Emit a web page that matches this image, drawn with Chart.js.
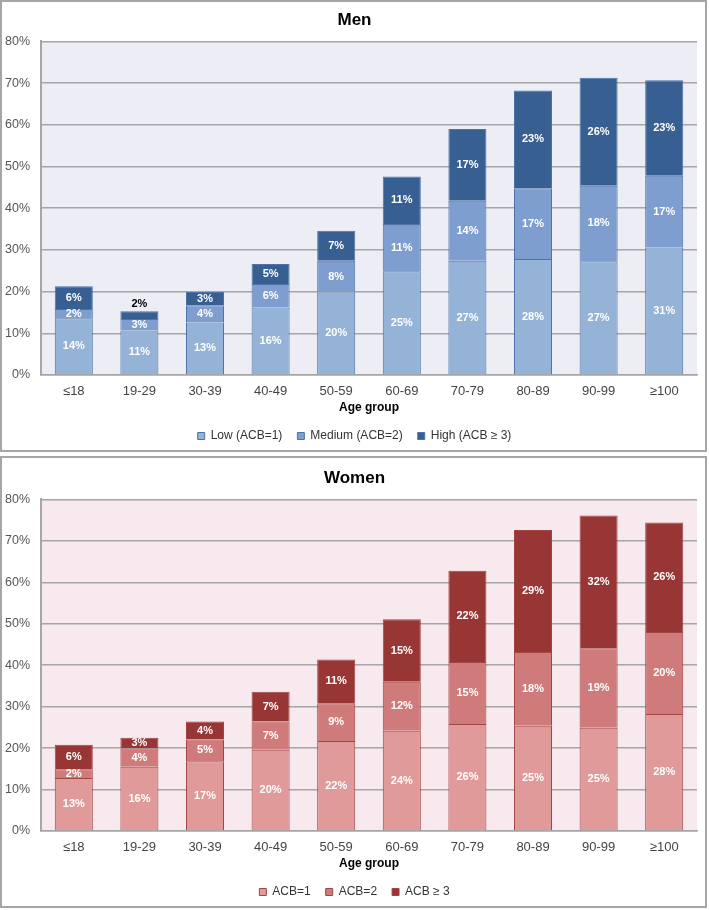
<!DOCTYPE html>
<html>
<head>
<meta charset="utf-8">
<script src="https://cdn.jsdelivr.net/npm/chart.js@4"></script>
<style>
  body { margin: 0; width: 709px; height: 910px; background: #fff; position: relative; overflow: hidden; }
  .panel { position: absolute; left: 0; width: 707px; height: 452px; border: 2px solid #a6a6a6; box-sizing: border-box; }
  canvas { position: absolute; left: 0; }
</style>
</head>
<body>
<div class="panel" style="top:0"></div>
<canvas id="men" width="709" height="454" style="top:0"></canvas>
<div class="panel" style="top:456px"></div>
<canvas id="women" width="709" height="452" style="top:458px"></canvas>
<script>
const ageGroups = ['≤18', '19-29', '30-39', '40-49', '50-59', '60-69', '70-79', '80-89', '90-99', '≥100'];
const yTicks = [0, 10, 20, 30, 40, 50, 60, 70, 80];

// Men, % by ACB level
const menLow = [13.6, 10.7, 12.6, 16.2, 19.8, 24.9, 27.4, 27.8, 27.3, 30.6];
const menMedium = [2.2, 2.7, 4.1, 5.6, 7.6, 11.3, 14.4, 17.0, 18.1, 17.2];
const menHigh = [5.5, 1.9, 3.2, 4.8, 7.2, 11.4, 17.2, 23.4, 25.9, 22.9];
const menLegend = ['Low (ACB=1)', 'Medium (ACB=2)', 'High (ACB ≥ 3)'];

// Women
const womenLow = [12.8, 15.5, 16.8, 19.6, 21.7, 24.2, 25.8, 25.4, 24.9, 28.2];
const womenMedium = [2.1, 4.4, 5.3, 6.8, 9.1, 11.8, 15.0, 17.8, 19.2, 19.8];
const womenHigh = [5.9, 2.6, 4.3, 7.2, 10.6, 15.1, 22.0, 29.4, 32.0, 26.4];
const womenLegend = ['ACB=1', 'ACB=2', 'ACB ≥ 3'];

const FONT = "Arial, 'Liberation Sans', sans-serif";

const plotBackground = {
  id: 'plotBackground',
  beforeDraw(chart, args, opts) {
    const { ctx, chartArea: a } = chart;
    ctx.save();
    ctx.fillStyle = opts.color;
    ctx.fillRect(a.left, a.top, a.right - a.left, a.bottom - a.top);
    ctx.restore();
  }
};

// title and legend are centred on the whole panel, not on the padded box
const centreOnPanel = {
  id: 'centreOnPanel',
  afterLayout(chart) {
    [chart.legend, chart.titleBlock].forEach(b => {
      if (!b) return;
      b.left += 6;
      b.right += 6;
    });
  }
};

const segmentLabels = {
  id: 'segmentLabels',
  afterDatasetsDraw(chart) {
    const ctx = chart.ctx;
    const last = chart.data.datasets.length - 1;
    ctx.save();
    ctx.font = 'bold 11px ' + FONT;
    ctx.textAlign = 'center';
    ctx.textBaseline = 'middle';
    chart.data.datasets.forEach((ds, i) => {
      chart.getDatasetMeta(i).data.forEach((bar, j) => {
        const v = ds.data[j];
        const text = Math.round(v) + '%';
        if (i === last && v < 2) {
          // too thin, put it on top of the bar
          ctx.fillStyle = '#000';
          ctx.fillText(text, bar.x, bar.y - 7);
        } else {
          ctx.fillStyle = '#fff';
          ctx.fillText(text, bar.x, (bar.y + bar.base) / 2);
        }
      });
    });
    ctx.restore();
  }
};

function makeChart(canvasId, title, series, labels, fills, border, bg) {
  const ctx = document.getElementById(canvasId).getContext('2d');
  return new Chart(ctx, {
    type: 'bar',
    data: {
      labels: ageGroups,
      datasets: series.map((data, i) => ({
        label: labels[i],
        data: data,
        backgroundColor: fills[i],
        borderColor: border,
        borderWidth: 1,
        categoryPercentage: 1,
        barPercentage: 0.58
      }))
    },
    options: {
      responsive: false,
      animation: false,
      devicePixelRatio: 1,
      layout: { padding: { left: 0, right: 12, top: 2, bottom: 2 } },
      plugins: {
        plotBackground: { color: bg },
        title: {
          display: true,
          text: title,
          color: '#000',
          font: { family: FONT, size: 17, weight: 'bold' },
          padding: { top: 8, bottom: 11 }
        },
        legend: {
          position: 'bottom',
          labels: {
            boxWidth: 7,
            boxHeight: 7,
            padding: 15,
            color: '#333',
            font: { family: FONT, size: 12 }
          }
        },
        tooltip: { enabled: false }
      },
      scales: {
        x: {
          stacked: true,
          grid: { display: false, drawTicks: false },
          border: { display: true, color: '#a6a6a6', width: 1.5 },
          ticks: { color: '#444', padding: 9, font: { family: FONT, size: 13 } },
          title: {
            display: true,
            text: 'Age group',
            color: '#000',
            font: { family: FONT, size: 12, weight: 'bold' },
            padding: { top: -8, bottom: 0 }
          }
        },
        y: {
          stacked: true,
          min: 0,
          max: 80,
          afterFit: (scale) => { scale.width = 41; },
          afterBuildTicks: (scale) => { scale.ticks = yTicks.map(v => ({ value: v })); },
          grid: { color: '#a6a6a6', lineWidth: 1.5, drawTicks: false },
          border: { display: true, color: '#a6a6a6', width: 2 },
          ticks: {
            color: '#555',
            padding: 11,
            font: { family: FONT, size: 12.5 },
            callback: (v) => v + '%'
          }
        }
      }
    },
    plugins: [plotBackground, centreOnPanel, segmentLabels]
  });
}

makeChart('men', 'Men', [menLow, menMedium, menHigh], menLegend,
  ['#95b3d7', '#7f9ed0', '#375f92'], '#4d73a8', '#ededf5');

makeChart('women', 'Women', [womenLow, womenMedium, womenHigh], womenLegend,
  ['#e09a9a', '#d07b7b', '#983535'], '#a34545', '#f7e9ed');
</script>
</body>
</html>
